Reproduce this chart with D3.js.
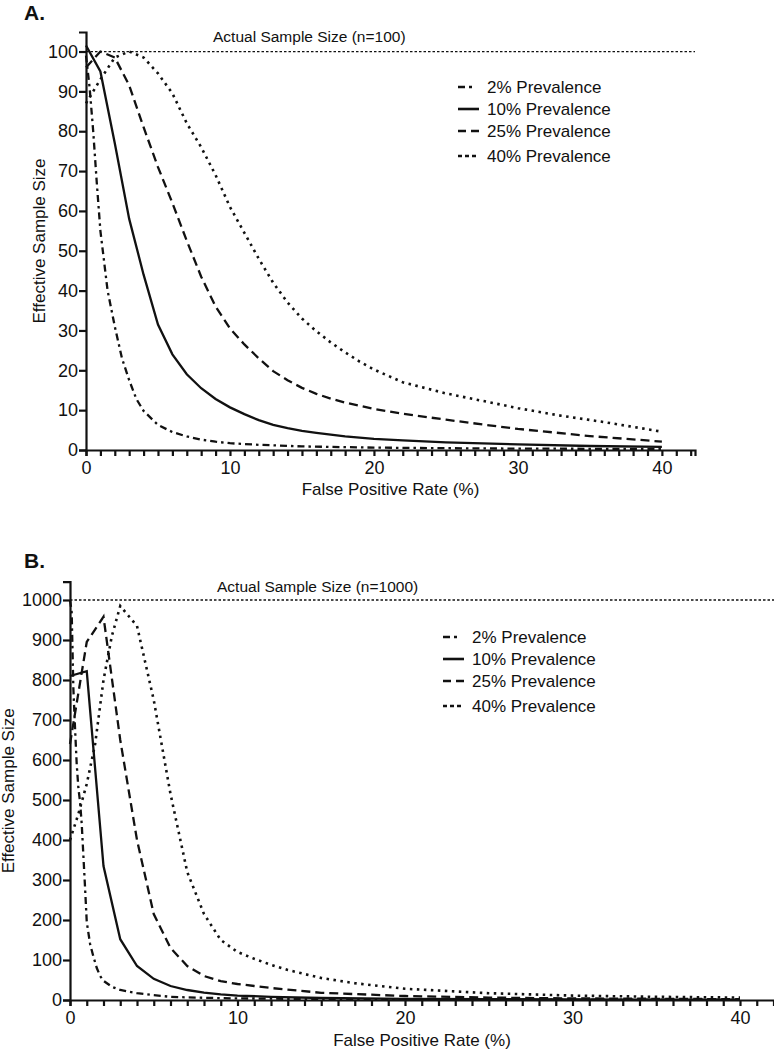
<!DOCTYPE html>
<html>
<head>
<meta charset="utf-8">
<script src="https://cdnjs.cloudflare.com/ajax/libs/d3/7.8.5/d3.min.js"></script>
<style>
  body { margin: 0; background: #fff; }
  svg text { font-family: "Liberation Sans", Arial, sans-serif; fill: #111; }
  .axis path, .axis line { stroke: #111; stroke-width: 2.2; }
</style>
</head>
<body>
<script>

// false positive rate (%) and effective sample size

// panel A, n = 100
var fprA2 = [0, 0.25, 0.5, 0.75, 1, 1.5, 2, 2.5, 3, 3.5, 4, 5, 6, 7, 8, 9, 10, 12, 15, 20, 25, 30, 35, 40];
var essA2 = [99, 91, 80, 67, 55, 40, 31, 23, 17.5, 12.8, 9.8, 6.3, 4.5, 3.4, 2.6, 2.1, 1.7, 1.3, 0.9, 0.6, 0.45, 0.35, 0.3, 0.25];

var fprA10 = [0, 1, 2, 3, 4, 5, 6, 7, 8, 9, 10, 11, 12, 13, 14, 15, 16, 18, 20, 22, 25, 30, 35, 40];
var essA10 = [101.5, 95, 77, 58, 44, 31.5, 24, 19, 15.5, 12.8, 10.7, 9, 7.5, 6.3, 5.5, 4.8, 4.3, 3.4, 2.8, 2.4, 1.9, 1.4, 1.0, 0.8];

var fprA25 = [0, 1, 2, 3, 4, 5, 6, 7, 8, 9, 10, 11, 12, 13, 14, 15, 16, 17, 18, 20, 22, 25, 28, 30, 35, 40];
var essA25 = [96, 100, 98.5, 91.5, 81, 71, 62, 52.5, 43.5, 36, 30.5, 26.5, 23, 19.8, 17.5, 15.6, 14.1, 12.9, 11.9, 10.3, 9.1, 7.6, 6.2, 5.3, 3.5, 2.1];

var fprA40 = [0, 1, 2, 3, 4, 5, 6, 7, 8, 9, 10, 11, 12, 13, 14, 15, 16, 17, 18, 19, 20, 22, 25, 28, 30, 33, 36, 40];
var essA40 = [87, 93, 98.5, 100, 98.5, 94.5, 89.5, 82, 76, 69, 61, 54.5, 48, 42, 37, 33, 29.8, 27, 24.5, 22.2, 20.2, 17, 14.2, 12, 10.5, 8.6, 7, 4.6];

// panel B, n = 1000
var fprB2 = [0, 0.1, 0.2, 0.3, 0.4, 0.5, 0.6, 0.7, 0.8, 0.9, 1, 1.2, 1.4, 1.6, 1.8, 2, 2.5, 3, 4, 5, 6, 7, 8, 10, 15, 20, 30, 40];
var essB2 = [1000, 970, 780, 680, 590, 530, 495, 440, 360, 280, 195, 140, 108, 80, 60, 48, 33, 25, 17, 12, 8, 6.5, 5.5, 4, 2.5, 1.5, 1, 0.5];

var fprB10 = [0, 1, 2, 3, 4, 5, 6, 7, 8, 9, 10, 12, 15, 20, 25, 30, 35, 40];
var essB10 = [810, 822, 335, 152, 85, 53, 35, 25, 18.5, 14, 11, 8, 5, 3, 2, 1.3, 1, 0.7];

var fprB25 = [0, 1, 2, 3, 4, 5, 6, 7, 8, 9, 10, 11, 12, 15, 20, 25, 30, 35, 40];
var essB25 = [640, 895, 958, 650, 400, 215, 130, 85, 60, 47, 40, 35, 30, 18, 10, 6, 4, 3, 2];

var fprB40 = [0, 0.5, 1, 1.5, 2, 2.5, 3, 4, 5, 6, 7, 8, 9, 10, 11, 12, 13, 15, 17, 20, 25, 30, 35, 40];
var essB40 = [400, 465, 540, 640, 800, 910, 985, 935, 750, 515, 320, 215, 150, 120, 103, 88, 75, 55, 42, 28, 17, 11, 8, 6];

var prevalences = ["2% Prevalence", "10% Prevalence", "25% Prevalence", "40% Prevalence"];
var xTickLabels = [0, 10, 20, 30, 40];
var yTicksA = [0, 10, 20, 30, 40, 50, 60, 70, 80, 90, 100];
var yTicksB = [0, 100, 200, 300, 400, 500, 600, 700, 800, 900, 1000];

// line styles per prevalence: dash-dot, solid, dashed, dotted
var dashes = ["7,4,2.5,4", null, "9,5", "2.5,4.5"];
var legendDashes = ["7,4,3,20", null, "8,5", "4,3"];

var svg = d3.select("body").append("svg")
  .attr("width", 774)
  .attr("height", 1050);

var pairs = function(xs, ys) {
  return xs.map(function(x, i) { return [x, ys[i]]; });
};

var panel = function(opt) {
  var x = d3.scaleLinear().domain([0, opt.xMax]).range([opt.left, opt.right]);
  var y = d3.scaleLinear().domain([0, opt.yMax]).range([opt.bottom, opt.top]);

  // reference line at actual n
  svg.append("line")
    .attr("x1", opt.left).attr("x2", opt.refEnd)
    .attr("y1", y(opt.n)).attr("y2", y(opt.n))
    .attr("stroke", "#111").attr("stroke-width", 1.3)
    .attr("stroke-dasharray", "2.5,2");

  svg.append("text")
    .attr("x", opt.refX).attr("y", opt.refY)
    .attr("font-size", 15.5)
    .text("Actual Sample Size (n=" + opt.n + ")");

  var line = d3.line()
    .x(function(d) { return x(d[0]); })
    .y(function(d) { return y(d[1]); });

  opt.series.forEach(function(s, i) {
    svg.append("path")
      .datum(pairs(s[0], s[1]))
      .attr("d", line)
      .attr("fill", "none")
      .attr("stroke", "#111")
      .attr("stroke-width", i == 3 ? 2.6 : 2.3)
      .attr("stroke-dasharray", dashes[i]);
  });

  // axes
  svg.append("g")
    .attr("class", "axis")
    .attr("transform", "translate(0," + opt.bottom + ")")
    .call(d3.axisBottom(x)
      .tickValues(d3.range(0, Math.floor(opt.xMax) + 1))
      .tickFormat(function(d) { return xTickLabels.indexOf(d) >= 0 ? d : ""; })
      .tickSizeOuter(0)
      .tickSize(6)
      .tickPadding(5))
    .selectAll("text").attr("font-size", 18);

  svg.append("g")
    .attr("class", "axis")
    .attr("transform", "translate(" + opt.left + ",0)")
    .call(d3.axisLeft(y)
      .tickValues(opt.yTicks)
      .tickFormat(d3.format("d"))
      .tickSizeOuter(0)
      .tickSize(7)
      .tickPadding(1))
    .selectAll("text").attr("font-size", 18);

  svg.selectAll(".axis .domain").attr("stroke-width", 2.6);

  // titles
  svg.append("text")
    .attr("x", (opt.left + opt.right) / 2)
    .attr("y", opt.xTitleY)
    .attr("text-anchor", "middle")
    .attr("font-size", 17)
    .text("False Positive Rate (%)");

  svg.append("text")
    .attr("transform", "translate(" + opt.yTitleX + "," + (opt.top + opt.bottom) / 2 + ") rotate(-90)")
    .attr("text-anchor", "middle")
    .attr("font-size", 17)
    .text("Effective Sample Size");

  svg.append("text")
    .attr("x", 24).attr("y", opt.letterY)
    .attr("font-size", 21)
    .attr("font-weight", "bold")
    .text(opt.letter);

  // legend
  var leg = svg.append("g");
  prevalences.forEach(function(p, i) {
    var by = opt.legendY[i];
    leg.append("line")
      .attr("x1", opt.legendX).attr("x2", opt.legendX + 21)
      .attr("y1", by - 6).attr("y2", by - 6)
      .attr("stroke", "#111").attr("stroke-width", 2.6)
      .attr("stroke-dasharray", legendDashes[i]);
    leg.append("text")
      .attr("x", opt.legendX + 29).attr("y", by)
      .attr("font-size", 17)
      .text(p);
  });
};

panel({
  letter: "A.", letterY: 20, n: 100,
  left: 86, right: 695, top: 32, bottom: 450,
  xMax: 42.3, yMax: 104.9, yTicks: yTicksA,
  refEnd: 695, refX: 213, refY: 42,
  xTitleY: 495, yTitleX: 45,
  legendX: 458, legendY: [93, 115, 137, 162],
  series: [[fprA2, essA2], [fprA10, essA10], [fprA25, essA25], [fprA40, essA40]]
});

panel({
  letter: "B.", letterY: 568, n: 1000,
  left: 70, right: 774, top: 581.7, bottom: 1000,
  xMax: 42.03, yMax: 1045.7, yTicks: yTicksB,
  refEnd: 774, refX: 217, refY: 592,
  xTitleY: 1046, yTitleX: 14,
  legendX: 443, legendY: [643, 665, 687, 712],
  series: [[fprB2, essB2], [fprB10, essB10], [fprB25, essB25], [fprB40, essB40]]
});

</script>
</body>
</html>
